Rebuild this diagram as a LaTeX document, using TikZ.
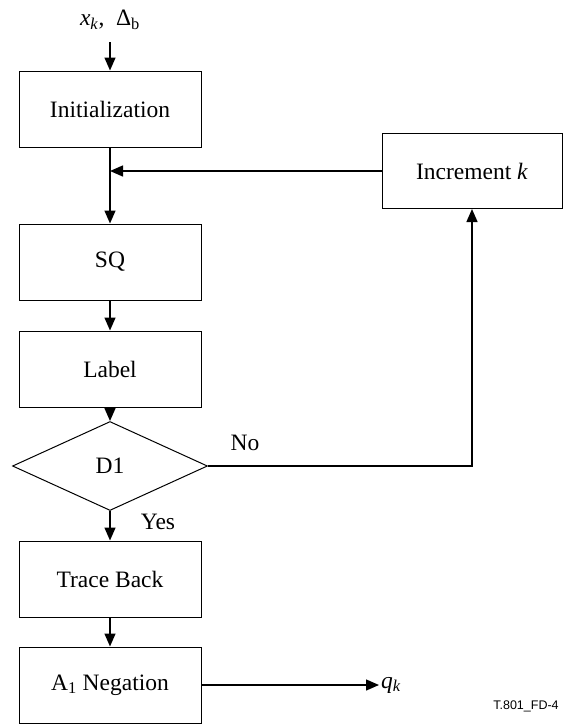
\documentclass[tikz,border=0pt]{standalone}
\usepackage{fontspec}
\setmainfont{Liberation Serif}
\newfontfamily\tagfont{Liberation Sans}
\usetikzlibrary{arrows.meta,shapes.geometric}
\begin{document}
\begin{tikzpicture}[x=1pt,y=-1pt,
  font=\fontsize{23.5}{28}\selectfont,
  stepbox/.style={draw,line width=1pt,minimum width=182pt,minimum height=76pt,inner sep=0pt},
  decision/.style={draw,line width=1pt,diamond,minimum width=195pt,minimum height=89pt,inner sep=0pt,aspect=2.19},
  arr/.style={line width=1.4pt,-{Triangle[length=13pt,width=11pt]}}]
\useasboundingbox (0,0) rectangle (563,726);

% inputs and main column
\node (in) at (110,20) {\textit{x}\textsubscript{\textit{k}}, \ Δ\textsubscript{b}};
\coordinate (inEnd) at (110,42);
\node[stepbox] (init) at (110,109) {Initialization};
\node[stepbox] (sq) at (110,262) {SQ};
\node[stepbox] (lab) at (110,369) {Label};
\node[decision] (d1) at (110,466) {D1};
\node[stepbox] (tb) at (110,579) {Trace Back};
\node[stepbox] (neg) at (110,685) {A\textsubscript{1} Negation};
\node[stepbox,minimum width=180pt,minimum height=75pt] (inc) at (472,171) {Increment \textit{k}};
\node[anchor=west,inner sep=2pt] (q) at (379,685) {\textit{q}\textsubscript{\textit{k}}};

% labels on the decision branches
\node (no) at (245,443) {No};
\node (yes) at (158,522) {Yes};

% output tag
\node[font=\tagfont\fontsize{12.5}{15}\selectfont] (tag) at (526,706) {T.801\_FD-4};

% connectors
\draw[arr] (inEnd) -- (init.north);
\draw[arr] (init.south) -- (sq.north);
\coordinate (join) at (init.south |- inc.west);
\draw[arr] (inc.west) -- (join);
\draw[arr] (sq.south) -- (lab.north);
\draw[arr] (lab.south) -- (d1.north);
\draw[arr] (d1.east) -| (inc.south);
\draw[arr] (d1.south) -- (tb.north);
\draw[arr] (tb.south) -- (neg.north);
\coordinate (qIn) at (neg.east -| q.west);
\draw[arr] (neg.east) -- (qIn);
\end{tikzpicture}
\end{document}
